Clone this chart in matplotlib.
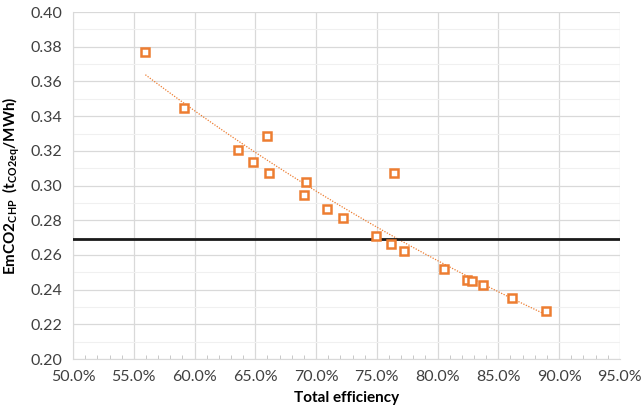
import numpy as np
import matplotlib.pyplot as plt
from matplotlib.ticker import MultipleLocator, FuncFormatter

# total efficiency (%) and emission factor (tCO2eq/MWh)
efficiency = [55.95, 59.1, 63.6, 64.8, 66.0, 66.1, 69.0, 69.2, 70.9, 72.2,
              74.9, 76.2, 76.4, 77.2, 80.55, 82.4, 82.8, 83.7, 86.1, 88.9]
emission = [0.3768, 0.3445, 0.3203, 0.3136, 0.3284, 0.3072, 0.2944, 0.3020,
            0.2866, 0.2815, 0.2708, 0.2662, 0.3072, 0.2622, 0.2520, 0.2458,
            0.2450, 0.2425, 0.2354, 0.2278]
reference_level = 0.2693

plt.rcParams['font.family'] = ['Lato', 'DejaVu Sans']
plt.rcParams['mathtext.fontset'] = 'custom'
plt.rcParams['mathtext.rm'] = 'Lato'
plt.rcParams['mathtext.bf'] = 'Lato:bold'

orange = '#ED7D31'

fig = plt.figure(figsize=(6.44, 4.17), dpi=100)
ax = fig.add_axes([0.1135, 0.139, 0.849, 0.832])

# exponential trend line, fitted on the data
b, a = np.polyfit(efficiency, np.log(emission), 1)
xs = np.linspace(min(efficiency), max(efficiency), 100)
ax.plot(xs, np.exp(a + b * xs), color=orange, lw=0.9, ls=(0, (1, 1.2)), zorder=2)

ax.axhline(reference_level, color='#1a1a1a', lw=2, zorder=3)

ax.plot(efficiency, emission, ls='none', marker='s', ms=6, mfc='white',
        mec=orange, mew=1.8, zorder=4)

ax.set_xlim(50, 95)
ax.set_ylim(0.20, 0.40)
ax.xaxis.set_major_locator(MultipleLocator(5))
ax.xaxis.set_minor_locator(MultipleLocator(1))
ax.yaxis.set_major_locator(MultipleLocator(0.02))
ax.yaxis.set_minor_locator(MultipleLocator(0.01))
ax.xaxis.set_major_formatter(FuncFormatter(lambda v, p: '%.1f%%' % v))
ax.yaxis.set_major_formatter(FuncFormatter(lambda v, p: '%.2f' % v))

ax.grid(which='major', color='#D9D9D9', lw=0.9)
ax.grid(which='minor', axis='y', color='#F0F0F0', lw=0.8)
ax.set_axisbelow(True)

ax.tick_params(which='major', length=0, labelsize=11.5, labelcolor='#404040', pad=8)
ax.tick_params(axis='x', which='minor', direction='in', length=3, color='#BFBFBF')
ax.tick_params(axis='y', which='minor', length=0)

for s in ['top', 'right']:
    ax.spines[s].set_visible(False)
for s in ['left', 'bottom']:
    ax.spines[s].set_color('#D9D9D9')

ax.set_xlabel('Total efficiency', fontsize=11, fontweight='bold', labelpad=5)
ax.set_ylabel(r'EmCO2$_\mathbf{CHP}$  (t$_\mathbf{CO2eq}$/MWh)', fontsize=11,
              fontweight='bold', labelpad=6)

fig.savefig('out.png', dpi=100)
